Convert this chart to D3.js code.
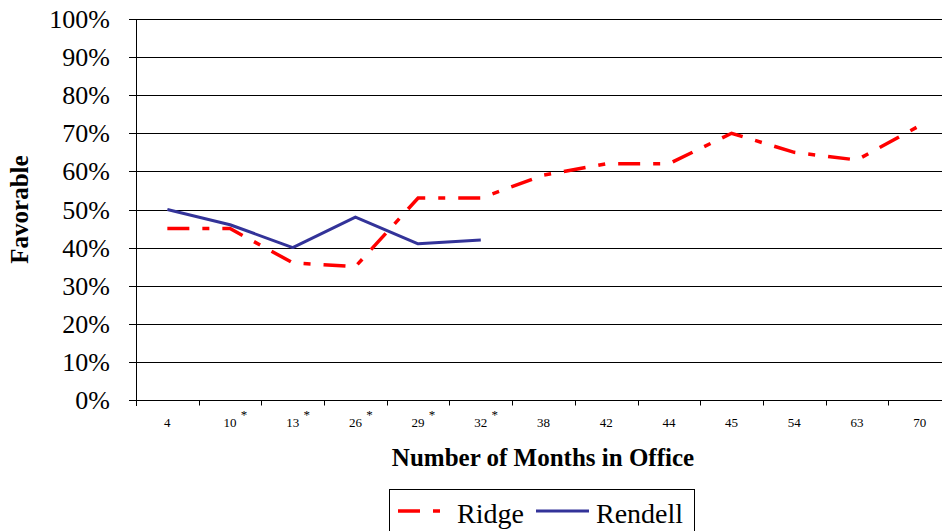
<!DOCTYPE html>
<html>
<head>
<meta charset="utf-8">
<script src="https://cdn.jsdelivr.net/npm/d3@7"></script>
</head>
<body style="margin:0">
<div id="chart"></div>
<script>
// months in office (x categories), asterisk marks some of them
const months = ['4', '10', '13', '26', '29', '32', '38', '42', '44', '45', '54', '63', '70'];
const starred = ['10', '13', '26', '29', '32'];
// favorable ratings, %
const ridge = [45, 45, 36, 35, 53, 53, 59, 62, 62, 70, 65, 63, 72];
const rendell = [50, 46, 40, 48, 41, 42];
const yTicks = [0, 10, 20, 30, 40, 50, 60, 70, 80, 90, 100];

const width = 942;
const height = 531;
const plot = { left: 136, right: 951, top: 19, bottom: 400 };
const fontName = 'Liberation Serif';

const svg = d3.select('#chart')
  .append('svg')
  .attr('width', width)
  .attr('height', height)
  .style('display', 'block');

const x = d3.scaleBand()
  .domain(months)
  .range([plot.left, plot.right]);

const y = d3.scaleLinear()
  .domain([0, 100])
  .range([plot.bottom, plot.top]);

// gridlines
svg.append('g')
  .selectAll('line')
  .data(yTicks.filter(d => d > 0))
  .enter()
  .append('line')
  .attr('x1', plot.left)
  .attr('x2', plot.right)
  .attr('y1', d => Math.round(y(d)) + 0.5)
  .attr('y2', d => Math.round(y(d)) + 0.5)
  .attr('stroke', '#000')
  .attr('stroke-width', 1);

// y axis
svg.append('line')
  .attr('x1', plot.left + 0.5)
  .attr('x2', plot.left + 0.5)
  .attr('y1', plot.top)
  .attr('y2', plot.bottom + 6)
  .attr('stroke', '#000');
svg.selectAll('line.ytick')
  .data(yTicks)
  .enter()
  .append('line')
  .attr('class', 'ytick')
  .attr('x1', plot.left - 7)
  .attr('x2', plot.left)
  .attr('y1', d => Math.round(y(d)) + 0.5)
  .attr('y2', d => Math.round(y(d)) + 0.5)
  .attr('stroke', '#000');
svg.selectAll('text.ylbl')
  .data(yTicks)
  .enter()
  .append('text')
  .attr('class', 'ylbl')
  .attr('x', plot.left - 26)
  .attr('y', d => y(d) + 9)
  .attr('text-anchor', 'end')
  .attr('font-family', fontName)
  .attr('font-size', 26)
  .text(d => d + '%');

// x axis: ticks sit at category boundaries
const xAxis = svg.append('g')
  .attr('transform', `translate(0,${Math.round(plot.bottom) + 0.5})`);
xAxis.append('line')
  .attr('x1', plot.left)
  .attr('x2', plot.right)
  .attr('stroke', '#000');
xAxis.selectAll('line.tick')
  .data(months.slice(1))
  .enter()
  .append('line')
  .attr('class', 'tick')
  .attr('x1', d => Math.round(x(d)) + 0.5)
  .attr('x2', d => Math.round(x(d)) + 0.5)
  .attr('y1', 0)
  .attr('y2', 5)
  .attr('stroke', '#000');
xAxis.selectAll('text.lbl')
  .data(months)
  .enter()
  .append('text')
  .attr('class', 'lbl')
  .attr('x', d => x(d) + x.bandwidth() / 2)
  .attr('y', 26)
  .attr('text-anchor', 'middle')
  .attr('font-family', fontName)
  .attr('font-size', 13)
  .text(d => d);
xAxis.selectAll('text.star')
  .data(starred)
  .enter()
  .append('text')
  .attr('class', 'star')
  .attr('x', d => x(d) + x.bandwidth() / 2 + 14)
  .attr('y', 18)
  .attr('text-anchor', 'middle')
  .attr('font-family', fontName)
  .attr('font-size', 13)
  .text('*');

// axis titles
svg.append('text')
  .attr('transform', `translate(28,${(plot.top + plot.bottom) / 2}) rotate(-90)`)
  .attr('text-anchor', 'middle')
  .attr('font-family', fontName)
  .attr('font-weight', 'bold')
  .attr('font-size', 25)
  .text('Favorable');

svg.append('text')
  .attr('x', 543)
  .attr('y', 466)
  .attr('text-anchor', 'middle')
  .attr('font-family', fontName)
  .attr('font-weight', 'bold')
  .attr('font-size', 25)
  .text('Number of Months in Office');

// lines
const line = d3.line()
  .x((d, i) => x(months[i]) + x.bandwidth() / 2)
  .y(d => y(d));

const ridgeDash = '22,13,7,13';

svg.append('path')
  .datum(ridge)
  .attr('d', line)
  .attr('fill', 'none')
  .attr('stroke', '#ff0000')
  .attr('stroke-width', 3.5)
  .attr('stroke-dasharray', ridgeDash);

svg.append('path')
  .datum(rendell)
  .attr('d', line)
  .attr('fill', 'none')
  .attr('stroke', '#333399')
  .attr('stroke-width', 3)
  .attr('stroke-linejoin', 'round');

// legend
const legend = svg.append('g');
legend.append('rect')
  .attr('x', 389.5)
  .attr('y', 489.5)
  .attr('width', 305)
  .attr('height', 50)
  .attr('fill', '#fff')
  .attr('stroke', '#000');

const items = [
  { name: 'Ridge', color: '#ff0000', dash: ridgeDash, x1: 398, x2: 441, tx: 457, w: 3.5 },
  { name: 'Rendell', color: '#333399', dash: null, x1: 536, x2: 589, tx: 596, w: 3 },
];
legend.selectAll('line')
  .data(items)
  .enter()
  .append('line')
  .attr('x1', d => d.x1)
  .attr('x2', d => d.x2)
  .attr('y1', 511)
  .attr('y2', 511)
  .attr('stroke', d => d.color)
  .attr('stroke-width', d => d.w)
  .attr('stroke-dasharray', d => d.dash);
legend.selectAll('text')
  .data(items)
  .enter()
  .append('text')
  .attr('x', d => d.tx)
  .attr('y', 523)
  .attr('font-family', fontName)
  .attr('font-size', 28)
  .text(d => d.name);
</script>
</body>
</html>
